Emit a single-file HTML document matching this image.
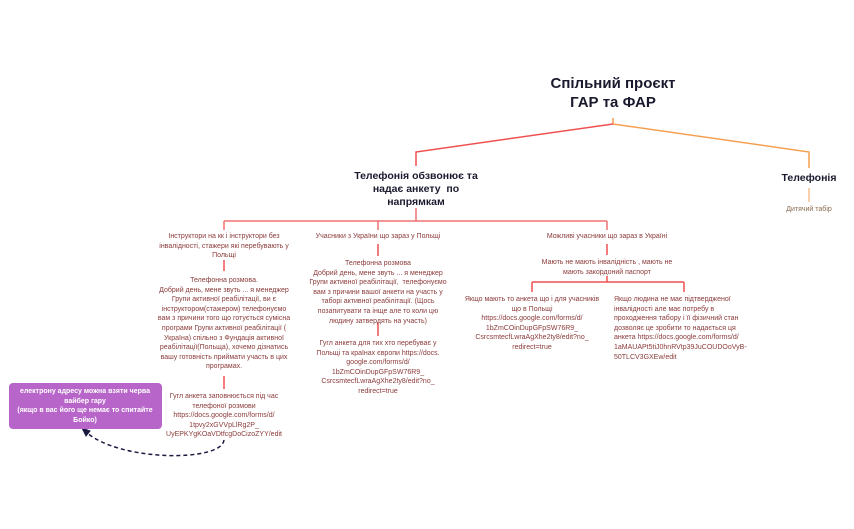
<!DOCTYPE html>
<html><head><meta charset="utf-8"><style>
body{margin:0;width:854px;height:529px;background:#fff;position:relative;overflow:hidden;font-family:"Liberation Sans","DejaVu Sans",sans-serif}
.t{position:absolute;text-align:center;color:#8b3a3a;font-size:7px;line-height:9.6px;transform:translateX(-50%);white-space:nowrap}
.b{position:absolute;text-align:center;font-weight:bold;color:#1a1a2e;transform:translateX(-50%);white-space:nowrap}
</style></head><body>
<svg width="854" height="529" style="position:absolute;left:0;top:0">
<g fill="none" stroke-width="1.5">
<path d="M613 118 V124" stroke="#f59a50"/>
<path d="M613 124 L416 152 V166" stroke="#f05050"/>
<path d="M613 124 L809 152 V168" stroke="#f5a050"/>
<path d="M809 188 V202" stroke="#f5c090"/>
<path d="M416 208 V221 M224 221 H607 M224 221 V230 M378 221 V230 M607 221 V230" stroke="#f07070"/>
<path d="M224 260 V271 M224 376 V389 M378 244 V256 M378 323 V336 M607 244 V255 M607 276 V282 M532 282 H684 M532 282 V292 M684 282 V292" stroke="#f05050"/>
<path d="M224 440 C222 462 120 462 86 432" stroke="#1a1a40" stroke-dasharray="4,3"/>
<path d="M82 428 L86 436 L90 431 Z" fill="#1a1a40" stroke="#1a1a40" stroke-width="1"/>
</g>
<rect x="9" y="383" width="153" height="46" rx="4" fill="#b765c9"/>
</svg>
<div class="b" style="left:613px;top:74px;font-size:15px;line-height:19px">Спільний проєкт<br>ГАР та ФАР</div>
<div class="b" style="left:416px;top:170px;font-size:10.5px;line-height:13px">Телефонія обзвонює та<br>надає анкету&nbsp; по<br>напрямкам</div>
<div class="b" style="left:809px;top:172px;font-size:10.5px;line-height:13px">Телефонія</div>
<div class="t" style="left:809px;top:205px;color:#8a6a50">Дитячий табір</div>
<div class="t" style="left:224px;top:232px">Інструктори на кк і інструктори без<br>інвалідності, стажери які перебувають у<br>Польщі</div>
<div class="t" style="left:224px;top:276px">Телефонна розмова.<br>Добрий день, мене звуть ... я менеджер<br>Групи активної реабілітації, ви є<br>інструктором(стажером) телефонуємо<br>вам з причини того що готується сумісна<br>програми Групи активної реабілітації (<br>Україна) спільно з Фундація активної<br>реабілітації(Польща), хочемо дізнатись<br>вашу готовність приймати участь в цих<br>програмах.</div>
<div class="t" style="left:224px;top:392px">Гугл анкета заповнюється під час<br>телефоної розмови<br>https://docs.google.com/forms/d/<br>1tpvy2xGVVpLlRg2P_<br>UyEPKYgKOaVDtfcgDoCizoZYY/edit</div>
<div class="t" style="left:378px;top:232px">Учасники з України що зараз у Польщі</div>
<div class="t" style="left:378px;top:259px">Телефонна розмова<br>Добрий день, мене звуть ... я менеджер<br>Групи активної реабілітації,&nbsp; телефонуємо<br>вам з причини вашої анкети на участь у<br>таборі активної реабілітації. (Щось<br>позапитувати та інще але то коли цю<br>людину затвердять на участь)</div>
<div class="t" style="left:378px;top:339px">Гугл анкета для тих хто перебуває у<br>Польщі та країнах європи https://docs.<br>google.com/forms/d/<br>1bZmCOinDupGFpSW76R9_<br>CsrcsmtecfLwraAgXhe2ty8/edit?no_<br>redirect=true</div>
<div class="t" style="left:607px;top:232px">Можливі учасники що зараз в Україні</div>
<div class="t" style="left:607px;top:258px">Мають не мають інвалідність , мають не<br>мають закордоний паспорт</div>
<div class="t" style="left:532px;top:295px">Якщо мають то анкета що і для учасників<br>що в Польщі<br>https://docs.google.com/forms/d/<br>1bZmCOinDupGFpSW76R9_<br>CsrcsmtecfLwraAgXhe2ty8/edit?no_<br>redirect=true</div>
<div class="t" style="left:614px;top:295px;text-align:left;transform:none">Якщо людина не має підтвердженої<br>інвалідності але має потребу в<br>проходження табору і її фізичний стан<br>дозволяє це зробити то надається ця<br>анкета https://docs.google.com/forms/d/<br>1aMAUAPt5tiJ0hnRVtp39JuCOUDOoVyB-<br>50TLCV3GXEw/edit</div>
<div class="b" style="left:85px;top:387px;color:#fff;font-size:7px;line-height:9.5px">електрону адресу можна взяти черва<br>вайбер гару<br>(якщо в вас його ще немає то спитайте<br>Бойко)</div>
</body></html>
